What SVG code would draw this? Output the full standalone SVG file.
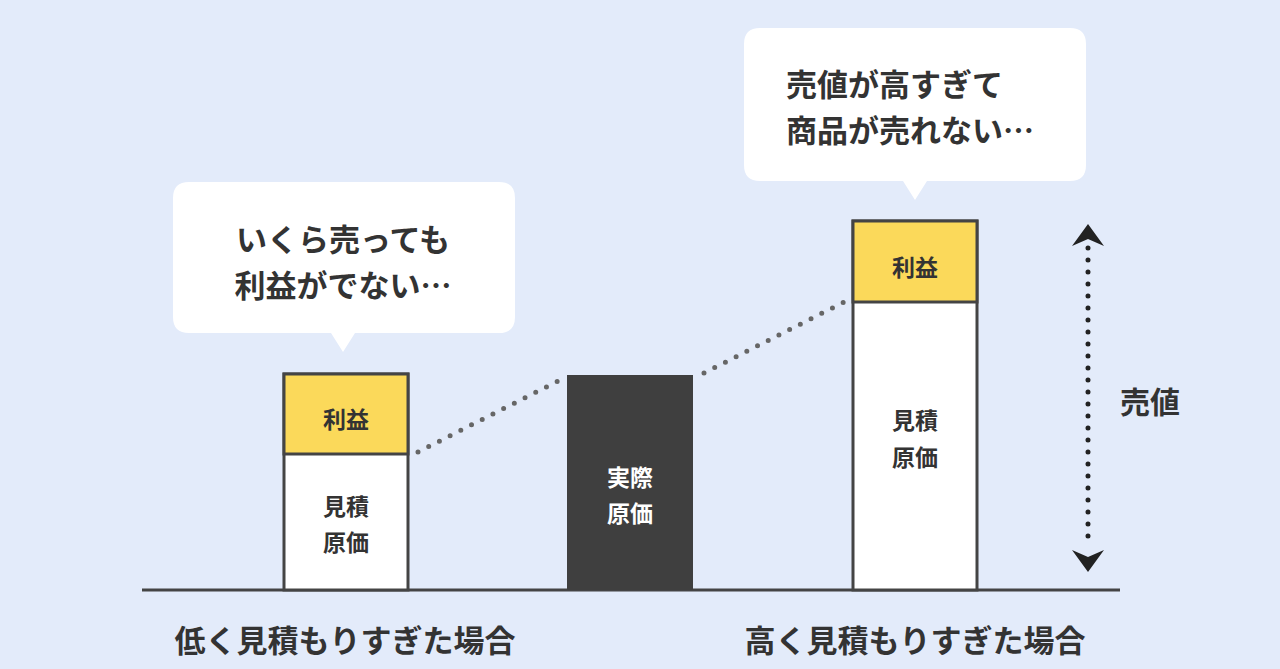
<svg xmlns="http://www.w3.org/2000/svg" width="1280" height="669" viewBox="0 0 1280 669">
<style>
text{font-family:"Noto Sans CJK JP",sans-serif;font-weight:700;fill:#333}
.bar{stroke:#444;stroke-width:3}
.dot{stroke:#666;stroke-width:5;stroke-linecap:round;stroke-dasharray:0 12;fill:none}
.bub{fill:#fff}
</style>
<rect width="1280" height="669" fill="#e3ebfa"/>
<g id="connectors">
<path class="dot" d="M418 452 L560 380"/>
<path class="dot" d="M704 373 L848 300"/>
<path class="dot" d="M1088 248 L1088 548" style="stroke:#222"/>
<path d="M1072 246 L1088 224 L1104 246 L1088 239 Z" fill="#222"/>
<path d="M1072 550 L1088 572 L1104 550 L1088 557 Z" fill="#222"/>
</g>
<line x1="142" y1="590" x2="1120" y2="590" stroke="#444" stroke-width="3"/>
<g id="bubble-left">
<path class="bub" d="M189 182 H499 Q515 182 515 198 V317 Q515 333 499 333 H355 L343 352 L331 333 H189 Q173 333 173 317 V198 Q173 182 189 182 Z"/>
<text x="343" y="251" font-size="31" text-anchor="middle">いくら売っても</text>
<text x="343" y="297" font-size="31" text-anchor="middle">利益がでない…</text>
</g>
<g id="bubble-right">
<path class="bub" d="M760 28 H1070 Q1086 28 1086 44 V165 Q1086 181 1070 181 H927 L915 200 L903 181 H760 Q744 181 744 165 V44 Q744 28 760 28 Z"/>
<text x="786" y="96" font-size="31">売値が高すぎて</text>
<text x="786" y="142" font-size="31">商品が売れない…</text>
</g>
<g id="bar-left">
<rect class="bar" x="284" y="374" width="124" height="216" fill="#fff"/>
<rect class="bar" x="284" y="374" width="124" height="80" fill="#fbd95a"/>
<text x="346" y="428" font-size="23" text-anchor="middle">利益</text>
<text x="346" y="515" font-size="23" text-anchor="middle">見積</text>
<text x="346" y="551" font-size="23" text-anchor="middle">原価</text>
</g>
<g id="bar-center">
<rect x="567" y="375" width="126" height="215" fill="#3f3f3f"/>
<text x="630" y="486" font-size="23" text-anchor="middle" style="fill:#fff">実際</text>
<text x="630" y="522" font-size="23" text-anchor="middle" style="fill:#fff">原価</text>
</g>
<g id="bar-right">
<rect class="bar" x="853" y="221" width="124" height="369" fill="#fff"/>
<rect class="bar" x="853" y="221" width="124" height="81" fill="#fbd95a"/>
<text x="915" y="276" font-size="23" text-anchor="middle">利益</text>
<text x="915" y="429" font-size="23" text-anchor="middle">見積</text>
<text x="915" y="466" font-size="23" text-anchor="middle">原価</text>
</g>
<text x="1150" y="413" font-size="30" text-anchor="middle">売値</text>
<text x="345" y="652" font-size="31" text-anchor="middle">低く見積もりすぎた場合</text>
<text x="915" y="652" font-size="31" text-anchor="middle">高く見積もりすぎた場合</text>
</svg>
